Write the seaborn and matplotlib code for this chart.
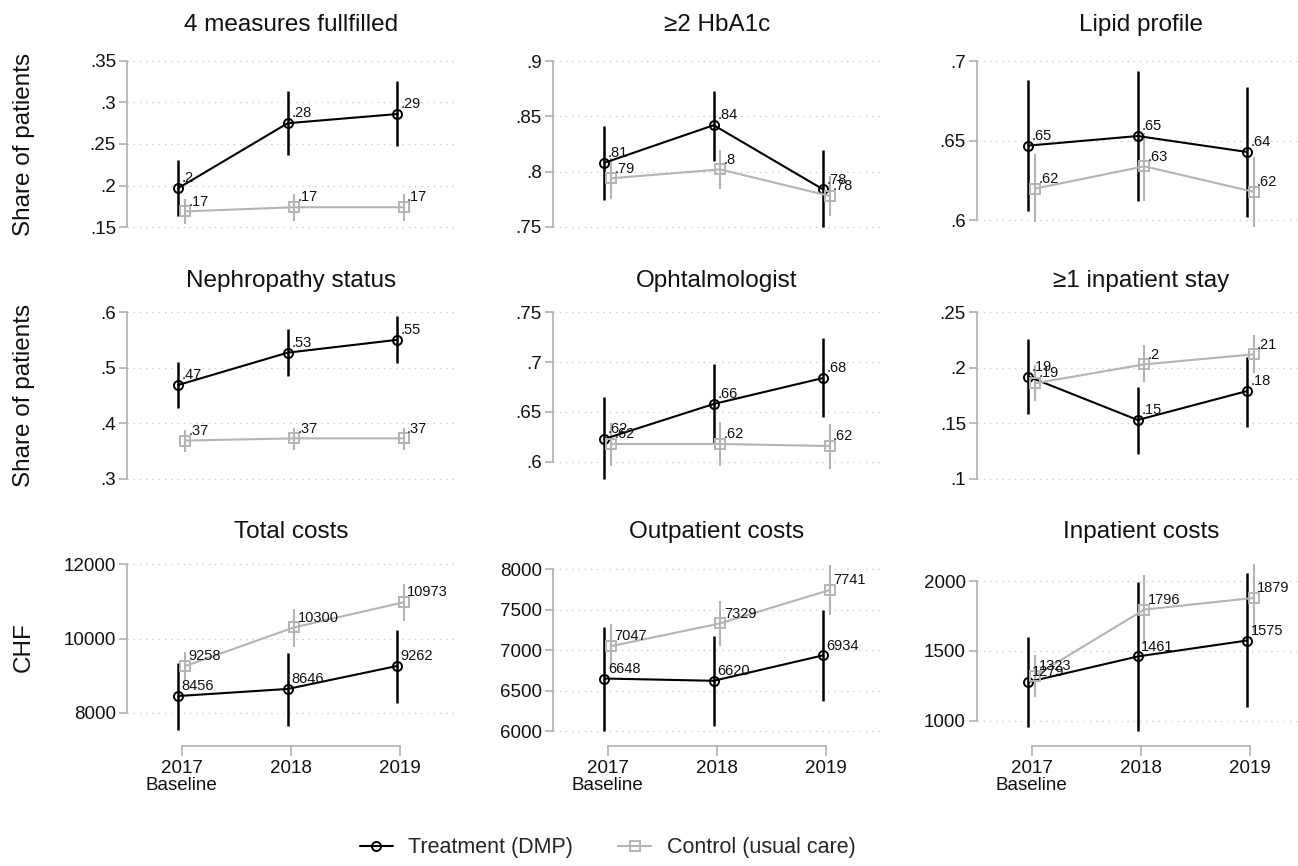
import numpy as np
import pandas as pd
import matplotlib
matplotlib.use("Agg")
import matplotlib.pyplot as plt
from matplotlib.lines import Line2D
import seaborn as sns

# data
years = [2017, 2018, 2019]
year_labels = ["2017\nBaseline", "2018", "2019"]
panel_titles = ["4 measures fullfilled", "\u22652 HbA1c", "Lipid profile",
                "Nephropathy status", "Ophtalmologist", "\u22651 inpatient stay",
                "Total costs", "Outpatient costs", "Inpatient costs"]
row_labels = ["Share of patients", "Share of patients", "CHF"]
groups = ["Treatment (DMP)", "Control (usual care)"]

treat_mean = [[.197, .275, .286], [.808, .842, .784], [.647, .653, .643],
              [.469, .527, .550], [.623, .658, .684], [.192, .153, .179],
              [8456, 8646, 9262], [6648, 6620, 6934], [1279, 1461, 1575]]
treat_lo = [[.164, .237, .248], [.774, .810, .750], [.606, .612, .602],
            [.427, .485, .508], [.583, .619, .645], [.158, .122, .147],
            [7535, 7642, 8268], [6004, 6062, 6374], [960, 929, 1098]]
treat_hi = [[.231, .314, .326], [.841, .873, .820], [.688, .694, .684],
            [.511, .569, .592], [.665, .698, .724], [.226, .183, .210],
            [9342, 9611, 10237], [7288, 7177, 7494], [1602, 1995, 2060]]
ctrl_mean = [[.169, .174, .174], [.794, .802, .778], [.620, .634, .618],
             [.369, .373, .373], [.618, .618, .616], [.186, .203, .212],
             [9258, 10300, 10973], [7047, 7329, 7741], [1323, 1796, 1879]]
ctrl_lo = [[.154, .158, .158], [.775, .784, .760], [.599, .612, .596],
           [.349, .352, .352], [.596, .596, .593], [.170, .187, .195],
           [8878, 9772, 10461], [6774, 7049, 7432], [1174, 1550, 1626]]
ctrl_hi = [[.184, .190, .190], [.812, .820, .796], [.642, .655, .640],
           [.388, .392, .392], [.639, .640, .638], [.202, .220, .229],
           [9638, 10792, 11463], [7321, 7605, 8049], [1471, 2043, 2119]]

y_ticks = [[.15, .2, .25, .3, .35], [.75, .8, .85, .9], [.6, .65, .7],
           [.3, .4, .5, .6], [.6, .65, .7, .75], [.1, .15, .2, .25],
           [8000, 10000, 12000], [6000, 6500, 7000, 7500, 8000], [1000, 1500, 2000]]
y_lims = [(.137, .363), (.740, .910), (.589, .707),
          (.2802, .6216), (.572, .762), (.0901, .2608),
          (7275, 12242), (5889, 8173), (864, 2186)]

# long table
rows = []
for p in range(9):
    for g, (m, lo, hi) in enumerate([(treat_mean, treat_lo, treat_hi),
                                      (ctrl_mean, ctrl_lo, ctrl_hi)]):
        for i, yr in enumerate(years):
            rows.append(dict(panel=p, group=groups[g], year=yr,
                             xpos=yr + (-0.03 if g == 0 else 0.03),
                             mean=m[p][i], lo=lo[p][i], hi=hi[p][i]))
df = pd.DataFrame(rows)

sns.set_theme(style="white")
plt.rcParams['font.family'] = ['Liberation Sans', 'DejaVu Sans']

colors = {groups[0]: "black", groups[1]: "#b4b4b4"}
markers = {groups[0]: "o", groups[1]: "s"}
axis_gray = "#b0b0b0"


def stata_num(v):
    s = f"{v:g}"
    if s.startswith("0."):
        s = s[1:]
    return s


def value_label(v):
    if abs(v) >= 100:
        return f"{v:.0f}"
    return stata_num(round(v, 2))


fig = plt.figure(figsize=(12.98, 8.66), dpi=100)
W, H = 1298, 866
col_left = [127, 553, 977]
row_span = [(50, 238), (300, 490), (555, 740)]
title_pad = [14, 9, 12]

for p in range(9):
    r, c = divmod(p, 3)
    top, bot = row_span[r]
    ax = fig.add_axes([col_left[c] / W, 1 - bot / H, 328 / W, (bot - top) / H])
    sub = df[df.panel == p]

    for g in groups:
        d = sub[sub.group == g]
        ax.vlines(d.xpos, d.lo, d.hi, colors=colors[g],
                  lw=1.8 if g == groups[0] else 1.5, zorder=3)
        sns.lineplot(data=d, x="xpos", y="mean", color=colors[g],
                     marker=markers[g], markersize=6.5, lw=1.5,
                     sort=False, errorbar=None, ax=ax, zorder=4)
        for _, row in d.iterrows():
            ax.annotate(value_label(row["mean"]), (row.xpos, row["mean"]),
                        xytext=(2.5, 2), textcoords="offset points",
                        ha="left", va="bottom", fontsize=10.5, color="#111111",
                        zorder=5)

    for ln in ax.lines:
        ln.set_markerfacecolor("none")
        ln.set_markeredgecolor(ln.get_color())
        ln.set_markeredgewidth(1.4)

    ax.set_xlim(2016.5, 2019.5)
    ax.set_ylim(*y_lims[p])
    ax.set_yticks(y_ticks[p])
    ax.set_yticklabels([stata_num(t) if t < 100 else f"{t:.0f}" for t in y_ticks[p]])
    ax.yaxis.grid(True, linestyle=(0, (1, 4)), color="#c4c4c4", lw=0.9)
    ax.set_axisbelow(True)

    for s in ["top", "right"]:
        ax.spines[s].set_visible(False)
    ax.spines["left"].set_color(axis_gray)
    ax.spines["left"].set_linewidth(1.2)
    ax.spines["left"].set_bounds(y_ticks[p][0], y_ticks[p][-1])
    ax.tick_params(axis="y", which="both", left=True, length=6, width=1.2,
                   color=axis_gray, labelsize=13.5, pad=2, labelcolor="#111111")

    if r == 2:
        ax.spines["bottom"].set_position(("outward", 4.5))
        ax.spines["bottom"].set_bounds(2017, 2019)
        ax.spines["bottom"].set_color(axis_gray)
        ax.spines["bottom"].set_linewidth(1.2)
        ax.set_xticks(years)
        ax.set_xticklabels(year_labels, fontsize=13.5, linespacing=1.0)
        ax.tick_params(axis="x", bottom=True, length=7, width=1.2,
                       color=axis_gray, pad=3, labelcolor="#111111")
    else:
        ax.spines["bottom"].set_visible(False)
        ax.set_xticks([])

    ax.set_xlabel("")
    ax.set_title(panel_titles[p], fontsize=17.5, pad=title_pad[r], color="#111111")
    if c == 0:
        ax.set_ylabel(row_labels[r], fontsize=17.5, color="#111111")
        ax.yaxis.set_label_coords(-0.28, 0.5)
    else:
        ax.set_ylabel("")

handles = [Line2D([], [], color=colors[g], marker=markers[g], lw=1.5,
                  markersize=6.5, markerfacecolor="none",
                  markeredgecolor=colors[g], markeredgewidth=1.4) for g in groups]
fig.legend(handles, groups, loc="center", bbox_to_anchor=(0.468, 0.021),
           ncol=2, frameon=False, fontsize=15.5, handlelength=1.55,
           handletextpad=0.7, columnspacing=2.1)

fig.savefig("out.png", dpi=100)
